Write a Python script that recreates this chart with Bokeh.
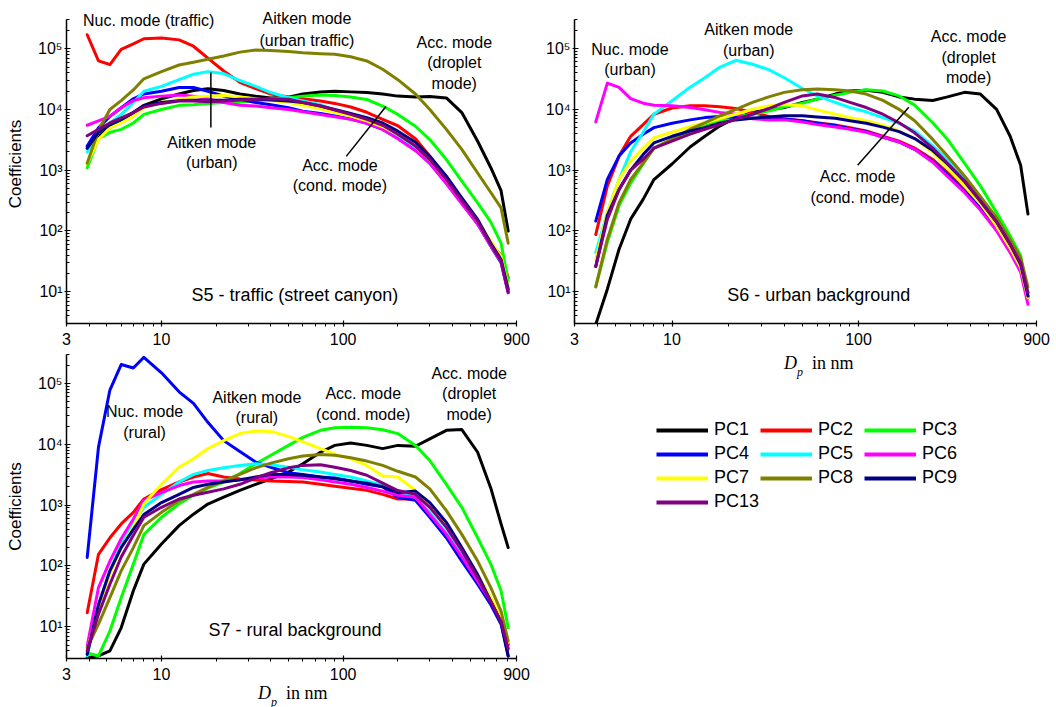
from bokeh.plotting import figure
from bokeh.models import FixedTicker, Label, Legend, LegendItem, Range1d, Div
from bokeh.layouts import row, column
from bokeh.embed import file_html
from bokeh.resources import INLINE

# ---------------- data ----------------
dp_nm = [3.9, 4.5, 5.2, 6, 7, 8, 10, 12.5, 15, 18, 22, 27, 33, 40, 50, 60, 75, 90,
         110, 135, 165, 200, 250, 300, 370, 450, 550, 650, 740, 810]

series_names = ["PC1", "PC2", "PC3", "PC4", "PC5", "PC6", "PC7", "PC8", "PC9", "PC13"]
series_colors = ["#000000", "#ff0000", "#00ff00", "#0000ff", "#00ffff",
                 "#ff00ff", "#ffff00", "#808000", "#000080", "#800080"]

# S5 - traffic (street canyon)
s5_pc1 = [2.3e3, 3.6e3, 5e3, 6.5e3, 8.9e3, 1.17e4, 1.5e4, 1.8e4, 2.05e4, 2.2e4, 2.05e4, 1.8e4, 1.65e4, 1.55e4, 1.6e4, 1.8e4, 1.94e4, 2e4, 1.95e4, 1.9e4, 1.8e4, 1.66e4, 1.6e4, 1.64e4, 1.55e4, 8.9e3, 3e3, 1.1e3, 4.6e2, 1e2]
s5_pc2 = [1.7e5, 6.3e4, 5.5e4, 9.8e4, 1.2e5, 1.46e5, 1.5e5, 1.4e5, 1.1e5, 7e4, 4.3e4, 2.8e4, 2.2e4, 1.8e4, 1.6e4, 1.5e4, 1.38e4, 1.26e4, 1.1e4, 9e3, 6.9e3, 5.4e3, 3.3e3, 1.7e3, 7e2, 2.9e2, 1.4e2, 63, 40, 17]
s5_pc3 = [1.1e3, 3.3e3, 4.2e3, 4.7e3, 6e3, 8.3e3, 1e4, 1.17e4, 1.2e4, 1.26e4, 1.3e4, 1.32e4, 1.38e4, 1.5e4, 1.56e4, 1.66e4, 1.73e4, 1.7e4, 1.6e4, 1.46e4, 1.14e4, 8.3e3, 5.3e3, 3.2e3, 1.5e3, 6.6e2, 2.9e2, 1.4e2, 63, 15]
s5_pc4 = [2.5e3, 5e3, 7.7e3, 1.07e4, 1.5e4, 1.8e4, 2e4, 2.3e4, 2.3e4, 2e4, 1.66e4, 1.47e4, 1.3e4, 1.2e4, 1.07e4, 9.4e3, 8.6e3, 7.8e3, 7e3, 5.9e3, 4.7e3, 3.4e3, 2.2e3, 1.3e3, 6.2e2, 2.9e2, 1.3e2, 56, 30, 9.6]
s5_pc5 = [2e3, 4.2e3, 6e3, 8.3e3, 1.3e4, 2e4, 2.4e4, 3.1e4, 3.8e4, 4.2e4, 3.9e4, 3e4, 2.4e4, 1.9e4, 1.56e4, 1.38e4, 1.2e4, 9.5e3, 8e3, 6.5e3, 5e3, 3.7e3, 2.4e3, 1.4e3, 6.6e2, 3e2, 1.35e2, 58, 32, 10.5]
s5_pc6 = [5.5e3, 6.5e3, 7.7e3, 1.07e4, 1.4e4, 1.56e4, 1.66e4, 1.74e4, 1.66e4, 1.5e4, 1.3e4, 1.17e4, 1.14e4, 1.07e4, 1e4, 9.2e3, 8.3e3, 7.6e3, 6.9e3, 5.9e3, 4.7e3, 3.3e3, 2.1e3, 1.3e3, 6e2, 2.8e2, 1.3e2, 57, 31, 9.8]
s5_pc7 = [1.3e3, 3.2e3, 5e3, 6e3, 7.7e3, 1.07e4, 1.3e4, 1.47e4, 1.6e4, 1.66e4, 1.7e4, 1.6e4, 1.5e4, 1.4e4, 1.3e4, 1.17e4, 1.03e4, 8.9e3, 7.8e3, 6.5e3, 5.2e3, 3.9e3, 2.5e3, 1.5e3, 7e2, 3.3e2, 1.45e2, 68, 38, 12]
s5_pc8 = [1.3e3, 4.5e3, 1e4, 1.4e4, 2.1e4, 3.2e4, 4.2e4, 5.4e4, 6e4, 6.7e4, 7.6e4, 8.8e4, 9.5e4, 9.4e4, 9e4, 8.6e4, 8.3e4, 8.1e4, 7.4e4, 6.3e4, 4.6e4, 3.1e4, 1.8e4, 1e4, 4.7e3, 2.2e3, 9e2, 4.3e2, 2.4e2, 63]
s5_pc9 = [2.3e3, 4.2e3, 5.6e3, 6.9e3, 8.9e3, 1.14e4, 1.3e4, 1.4e4, 1.42e4, 1.42e4, 1.42e4, 1.47e4, 1.47e4, 1.43e4, 1.38e4, 1.3e4, 1.14e4, 1e4, 8.6e3, 7.3e3, 6e3, 4.4e3, 2.9e3, 1.7e3, 8e2, 3.5e2, 1.55e2, 63, 34, 11]
s5_pc13 = [3.7e3, 4.7e3, 6e3, 7.3e3, 8.9e3, 1.1e4, 1.26e4, 1.38e4, 1.38e4, 1.34e4, 1.38e4, 1.43e4, 1.47e4, 1.5e4, 1.47e4, 1.3e4, 1.14e4, 9.8e3, 8.3e3, 6.9e3, 5.5e3, 3.9e3, 2.5e3, 1.5e3, 7e2, 3.2e2, 1.45e2, 60, 32, 10]

# S6 - urban background
s6_pc1 = [2.9, 11, 50, 1.56e2, 3.3e2, 7e2, 1.26e3, 2.4e3, 3.6e3, 5.3e3, 7.3e3, 8.9e3, 9.8e3, 1.07e4, 1.3e4, 1.47e4, 1.78e4, 2e4, 2.05e4, 1.9e4, 1.6e4, 1.47e4, 1.4e4, 1.6e4, 1.9e4, 1.78e4, 1e4, 3.6e3, 1.2e3, 1.9e2]
s6_pc2 = [87, 5.5e2, 1.7e3, 3.6e3, 5.6e3, 8.3e3, 1.05e4, 1.14e4, 1.14e4, 1.1e4, 1.03e4, 8.9e3, 7.6e3, 6.9e3, 6.5e3, 6e3, 5.5e3, 5e3, 4.4e3, 3.6e3, 3e3, 2.3e3, 1.5e3, 9.1e2, 4.8e2, 2.6e2, 1.2e2, 56, 26, 8.5]
s6_pc3 = [12, 65, 2.6e2, 6.1e2, 1.26e3, 2.3e3, 3.2e3, 4.4e3, 5.3e3, 6.5e3, 7.6e3, 8.3e3, 9.4e3, 1.1e4, 1.26e4, 1.47e4, 1.7e4, 1.9e4, 2.1e4, 2e4, 1.66e4, 1.17e4, 6e3, 3.2e3, 1.3e3, 5.5e2, 2e2, 83, 39, 9.6]
s6_pc4 = [1.45e2, 7e2, 1.7e3, 2.8e3, 3.9e3, 5e3, 5.9e3, 6.7e3, 7.3e3, 7.6e3, 7.3e3, 7.1e3, 7.1e3, 6.9e3, 6.5e3, 5.9e3, 5.4e3, 4.8e3, 4.3e3, 3.5e3, 2.9e3, 2.2e3, 1.4e3, 8.5e2, 4.6e2, 2.4e2, 1.1e2, 52, 25, 7.9]
s6_pc5 = [44, 2e2, 7e2, 2e3, 4.2e3, 8.3e3, 1.38e4, 2.3e4, 3.3e4, 4.9e4, 6.4e4, 5.5e4, 4.5e4, 3.3e4, 2.2e4, 1.66e4, 1.3e4, 1.07e4, 9.1e3, 7.3e3, 5.9e3, 4.4e3, 2.5e3, 1.5e3, 7e2, 3.3e2, 1.45e2, 63, 30, 9.6]
s6_pc6 = [6.2e3, 2.7e4, 2.3e4, 1.5e4, 1.26e4, 1.17e4, 1.14e4, 1.07e4, 9.8e3, 8.9e3, 8.3e3, 7e3, 6.7e3, 6.7e3, 6.2e3, 5.6e3, 5.1e3, 4.7e3, 4.2e3, 3.5e3, 2.9e3, 2.2e3, 1.35e3, 7.9e2, 4.3e2, 2.2e2, 1e2, 44, 21, 6.2]
s6_pc7 = [34, 2e2, 7e2, 1.4e3, 2.3e3, 3.4e3, 4.2e3, 5.2e3, 6e3, 7e3, 8.3e3, 1e4, 1.14e4, 1.2e4, 1.14e4, 9.8e3, 8.3e3, 7.3e3, 6.5e3, 5.5e3, 4.4e3, 3.3e3, 1.95e3, 1.1e3, 5.5e2, 2.8e2, 1.2e2, 52, 25, 8]
s6_pc8 = [12, 73, 2.9e2, 7e2, 1.3e3, 2.3e3, 3.2e3, 4.7e3, 6e3, 7.8e3, 1e4, 1.3e4, 1.6e4, 1.9e4, 2.1e4, 2.15e4, 2.1e4, 2e4, 1.78e4, 1.4e4, 1e4, 6.5e3, 3.2e3, 1.7e3, 8e2, 3.7e2, 1.65e2, 72, 36, 12]
s6_pc9 = [26, 1.8e2, 4.8e2, 1e3, 1.8e3, 2.8e3, 3.6e3, 4.4e3, 5e3, 5.9e3, 6.7e3, 7.1e3, 7.5e3, 7.8e3, 7.8e3, 7.5e3, 7.1e3, 6.5e3, 5.9e3, 5.1e3, 4.3e3, 3.3e3, 2.1e3, 1.26e3, 6.5e2, 3.1e2, 1.4e2, 60, 28, 8.5]
s6_pc13 = [26, 1.55e2, 4.8e2, 1e3, 1.5e3, 2.3e3, 3e3, 3.9e3, 4.7e3, 5.6e3, 6.9e3, 8.3e3, 1.03e4, 1.3e4, 1.66e4, 1.78e4, 1.56e4, 1.3e4, 1.07e4, 8.3e3, 6e3, 4.1e3, 2.3e3, 1.3e3, 6.7e2, 3.1e2, 1.4e2, 60, 30, 9.6]

# S7 - rural background
s7_pc1 = [3.1, 3.3, 4, 9.6, 39, 1.07e2, 2.3e2, 4.6e2, 7.1e2, 1.04e3, 1.35e3, 1.74e3, 2.2e3, 2.7e3, 3.5e3, 4.8e3, 7.4e3, 9.6e3, 1.05e4, 9.6e3, 8.5e3, 9.6e3, 9.3e3, 1.23e4, 1.7e4, 1.75e4, 7.4e3, 1.9e3, 4.9e2, 2e2]
s7_pc2 = [17, 1.55e2, 2.9e2, 4.9e2, 7.6e2, 1.26e3, 1.8e3, 2.4e3, 2.9e3, 3.3e3, 2.9e3, 2.7e3, 2.6e3, 2.5e3, 2.45e3, 2.4e3, 2.2e3, 2.05e3, 1.9e3, 1.75e3, 1.5e3, 1.26e3, 1.26e3, 6.8e2, 3.2e2, 1.4e2, 60, 27, 15, 5]
s7_pc3 = [3.7, 3.3, 8.5, 30, 1.07e2, 3.3e2, 6.3e2, 1.05e3, 1.45e3, 1.9e3, 2.4e3, 3.3e3, 4.8e3, 6.6e3, 9.6e3, 1.3e4, 1.7e4, 1.87e4, 1.9e4, 1.87e4, 1.74e4, 1.5e4, 9.6e3, 5.4e3, 2.2e3, 9.2e2, 2.9e2, 1.07e2, 39, 9.6]
s7_pc4 = [1.38e2, 9e3, 7.8e4, 2.05e5, 1.8e5, 2.7e5, 1.5e5, 7.3e4, 4.7e4, 2.3e4, 1.15e4, 7.6e3, 5.1e3, 4.2e3, 3.4e3, 3.2e3, 2.9e3, 2.8e3, 2.5e3, 2.2e3, 2e3, 1.35e3, 1.2e3, 6.3e2, 2.9e2, 1.2e2, 50, 23, 11, 3.3]
s7_pc5 = [3.3, 23, 83, 2.3e2, 4.9e2, 9.2e2, 1.5e3, 2.4e3, 3.2e3, 3.7e3, 4.1e3, 4.5e3, 4.8e3, 4.6e3, 4.2e3, 3.8e3, 3.5e3, 3.2e3, 2.9e3, 2.5e3, 2.1e3, 1.6e3, 1.35e3, 7.6e2, 3.5e2, 1.55e2, 64, 28, 14, 4.5]
s7_pc6 = [4.8, 44, 1.2e2, 2.8e2, 5.9e2, 1.2e3, 1.6e3, 2.1e3, 2.4e3, 2.5e3, 2.5e3, 2.6e3, 2.8e3, 2.9e3, 2.9e3, 2.85e3, 2.6e3, 2.4e3, 2.2e3, 1.95e3, 1.7e3, 1.45e3, 1.35e3, 7e2, 3.3e2, 1.4e2, 56, 26, 14, 5.1]
s7_pc7 = [4, 20, 73, 2e2, 4.3e2, 1.05e3, 2.2e3, 4.2e3, 5.8e3, 8.5e3, 1.15e4, 1.5e4, 1.65e4, 1.63e4, 1.35e4, 1.1e4, 8.5e3, 6.9e3, 5.8e3, 4.5e3, 3e3, 2.9e3, 1.74e3, 1.05e3, 4.6e2, 1.9e2, 72, 30, 15, 5.5]
s7_pc8 = [4.5, 11, 30, 83, 2e2, 4.6e2, 7.6e2, 1.18e3, 1.5e3, 1.95e3, 2.5e3, 3.2e3, 4.1e3, 4.9e3, 5.8e3, 6.4e3, 6.8e3, 6.6e3, 6e3, 5.3e3, 4.5e3, 3.6e3, 2.9e3, 1.85e3, 8.1e2, 3.3e2, 1.2e2, 44, 18, 5.8]
s7_pc9 = [3.5, 23, 83, 2e2, 4e2, 7e2, 1.1e3, 1.5e3, 1.95e3, 2.2e3, 2.4e3, 2.6e3, 2.9e3, 3.2e3, 3.2e3, 3.1e3, 2.9e3, 2.7e3, 2.5e3, 2.3e3, 2e3, 1.6e3, 1.7e3, 1.1e3, 5.2e2, 2e2, 72, 26, 12, 3.3]
s7_pc13 = [4, 16, 50, 1.4e2, 3.2e2, 6.3e2, 9.2e2, 1.26e3, 1.45e3, 1.63e3, 1.85e3, 2.2e3, 2.8e3, 3.4e3, 4.1e3, 4.5e3, 4.6e3, 4.2e3, 3.7e3, 3.1e3, 2.3e3, 1.74e3, 1.5e3, 9.2e2, 4.3e2, 1.8e2, 64, 26, 12, 4.3]

s5_series = [s5_pc1, s5_pc2, s5_pc3, s5_pc4, s5_pc5, s5_pc6, s5_pc7, s5_pc8, s5_pc9, s5_pc13]
s6_series = [s6_pc1, s6_pc2, s6_pc3, s6_pc4, s6_pc5, s6_pc6, s6_pc7, s6_pc8, s6_pc9, s6_pc13]
s7_series = [s7_pc1, s7_pc2, s7_pc3, s7_pc4, s7_pc5, s7_pc6, s7_pc7, s7_pc8, s7_pc9, s7_pc13]

# ticks
x_ticks = [3, 10, 100, 900]
x_tick_labels = ["3", "10", "100", "900"]
x_minor = [4, 5, 6, 7, 8, 9, 20, 30, 40, 50, 60, 70, 80, 90, 200, 300, 400, 500, 600, 700, 800]
y_ticks = [10, 100, 1000, 10000, 100000]
y_tick_labels = ["10\u00b9", "10\u00b2", "10\u00b3", "10\u2074", "10\u2075"]
y_minor = [3, 4, 5, 6, 7, 8, 9, 20, 30, 40, 50, 60, 70, 80, 90, 200, 300, 400, 500, 600, 700, 800, 900,
           2000, 3000, 4000, 5000, 6000, 7000, 8000, 9000, 20000, 30000, 40000, 50000, 60000, 70000,
           80000, 90000, 200000, 300000]

# annotations: (text, x, y)
s5_notes = [("Nuc. mode (traffic)", 8.5, 2.92e5), ("Aitken mode", 63.2, 3.15e5),
            ("(urban traffic)", 63.2, 1.37e5), ("Acc. mode", 409, 1.27e5), ("(droplet", 409, 5.95e4),
            ("mode)", 409, 2.69e4), ("Aitken mode", 18.9, 2.87e3), ("(urban)", 18.9, 1.35e3),
            ("Acc. mode", 96, 1.2e3), ("(cond. mode)", 96, 562)]
s5_leaders = [(18.7, 4.07e4, 18.7, 5.05e3), (104, 1.69e3, 172, 1.12e4)]
s5_title = ("S5 - traffic (street canyon)", 54.3, 8.7)

s6_notes = [("Nuc. mode", 5.95, 9.7e4), ("(urban)", 5.95, 4.56e4), ("Aitken mode", 25.8, 2.08e5),
            ("(urban)", 25.8, 9.4e4), ("Acc. mode", 389, 1.59e5), ("(droplet", 389, 7.2e4),
            ("mode)", 389, 3.37e4), ("Acc. mode", 98.9, 791), ("(cond. mode)", 98.9, 357)]
s6_leaders = [(98.9, 1.2e3, 186, 1.08e4)]
s6_title = ("S6 - urban background", 61.2, 8.7)

s7_notes = [("Nuc. mode", 8.07, 3.41e4), ("(rural)", 8.07, 1.58e4), ("Aitken mode", 33.5, 5.94e4),
            ("(rural)", 33.5, 2.78e4), ("Acc. mode", 129, 6.92e4), ("(cond. mode)", 129, 3.11e4),
            ("Acc. mode", 494, 1.48e5), ("(droplet", 494, 6.92e4), ("mode)", 494, 3.11e4)]
s7_leaders = []
s7_title = ("S7 - rural background", 54.3, 8.8)

SANS = "Liberation Sans"
SERIF = "Liberation Serif"


def make_panel(series, notes, leaders, title, width, height, bl, br, bt, bb, ylabel, y_top):
    p = figure(width=width, height=height, x_axis_type="log", y_axis_type="log",
               x_range=Range1d(3, 900), y_range=Range1d(3, y_top),
               min_border_left=bl, min_border_right=br, min_border_top=bt, min_border_bottom=bb,
               output_backend="svg", toolbar_location=None)
    p.xgrid.visible = False
    p.ygrid.visible = False
    p.outline_line_color = None
    p.background_fill_color = "white"
    p.border_fill_color = "white"

    p.xaxis.ticker = FixedTicker(ticks=x_ticks, minor_ticks=x_minor)
    p.xaxis.major_label_overrides = dict(zip(x_ticks, x_tick_labels))
    p.yaxis.ticker = FixedTicker(ticks=y_ticks, minor_ticks=y_minor)
    p.yaxis.major_label_overrides = dict(zip(y_ticks, y_tick_labels))
    p.yaxis.bounds = (3, 3e5)
    for ax in (p.xaxis[0], p.yaxis[0]):
        ax.axis_line_width = 1.5
        ax.axis_line_color = "black"
        ax.major_tick_line_width = 1.2
        ax.minor_tick_line_width = 1
        ax.major_tick_line_color = "black"
        ax.minor_tick_line_color = "black"
        ax.major_label_text_font = SANS
        ax.major_label_text_font_size = "16px"
        ax.major_label_text_color = "black"
    # x axis: ticks mostly pointing down
    p.xaxis.major_tick_in = 3
    p.xaxis.major_tick_out = 3
    p.xaxis.minor_tick_in = 0
    p.xaxis.minor_tick_out = 3
    p.xaxis.major_label_standoff = 6
    # y axis: ticks pointing into the plot
    p.yaxis.major_tick_in = 4
    p.yaxis.major_tick_out = 2
    p.yaxis.minor_tick_in = 3
    p.yaxis.minor_tick_out = 0
    p.yaxis.major_label_standoff = 2
    if ylabel:
        p.yaxis.axis_label = ylabel
        p.yaxis.axis_label_text_font = SANS
        p.yaxis.axis_label_text_font_size = "17px"
        p.yaxis.axis_label_text_font_style = "normal"
        p.yaxis.axis_label_text_color = "black"
        p.yaxis.axis_label_standoff = 10

    for name, color, ys in zip(series_names, series_colors, series):
        p.line(dp_nm, ys, line_color=color, line_width=3, line_join="round", line_cap="round")

    if leaders:
        p.segment(x0=[l[0] for l in leaders], y0=[l[1] for l in leaders],
                  x1=[l[2] for l in leaders], y1=[l[3] for l in leaders],
                  line_color="black", line_width=1.5)

    for txt, x, y in notes:
        p.add_layout(Label(x=x, y=y, text=txt, text_align="center", text_baseline="middle",
                           text_font=SANS, text_font_size="16px", text_color="black"))
    t, tx, ty = title
    p.add_layout(Label(x=tx, y=ty, text=t, text_align="center", text_baseline="middle",
                       text_font=SANS, text_font_size="18px", text_color="black"))
    return p


def dp_div(width, height, pad_left, line_h):
    html = ('<div style="margin:0;padding:0 0 0 %dpx;font-family:\'Liberation Serif\';font-size:18px;'
            'line-height:%dpx;white-space:nowrap;color:black;">'
            '<i>D</i><span style="font-size:12px;font-style:italic;position:relative;top:7px;">p</span>'
            '&nbsp;&nbsp;in nm</div>') % (pad_left, line_h)
    return Div(text=html, width=width, height=height, margin=(0, 0, 0, 0))


# top of p1's frame reaches a little higher so its upper notes are not clipped
p1 = make_panel(s5_series, s5_notes, s5_leaders, s5_title, 534, 351, 66, 18, 4, 28, "Coefficients", 5.35e5)
p3 = make_panel(s7_series, s7_notes, s7_leaders, s7_title, 534, 335, 66, 18, 3, 28, "Coefficients", 3e5)
p2 = make_panel(s6_series, s6_notes, s6_leaders, s6_title, 522, 351, 40, 20, 19, 28, None, 3e5)

d3 = dp_div(534, 21, 258, 14)
d2 = dp_div(522, 28, 250, 24)

# legend panel
p4 = figure(width=522, height=328, x_range=Range1d(0, 1), y_range=Range1d(0, 1),
            x_axis_location=None, y_axis_location=None, min_border=0,
            output_backend="svg", toolbar_location=None)
p4.xgrid.visible = False
p4.ygrid.visible = False
p4.outline_line_color = None
leg_renderers = [p4.line(x=[float("nan")], y=[float("nan")], line_color=c, line_width=4)
                 for c in series_colors]
groups = [[0, 3, 6, 9], [1, 4, 7], [2, 5, 8]]
for gi, idxs in enumerate(groups):
    leg = Legend(items=[LegendItem(label=series_names[i], renderers=[leg_renderers[i]]) for i in idxs],
                 location=(82 + 104 * gi, 195 if gi == 0 else 219),
                 label_text_font=SANS, label_text_font_size="18px", label_text_color="black",
                 glyph_width=52, glyph_height=20, label_height=20, label_standoff=6, spacing=3,
                 padding=0, margin=0, border_line_color=None, background_fill_alpha=0)
    p4.add_layout(leg)

layout = row(column(p1, p3, d3), column(p2, d2, p4))
open("out.html", "w").write(file_html(layout, INLINE))
